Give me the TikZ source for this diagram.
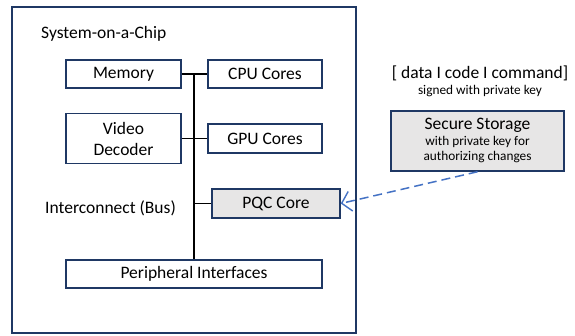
\documentclass[tikz,border=0pt]{standalone}
\usepackage{fontspec}
\setmainfont{Carlito}
\usetikzlibrary{arrows.meta}
\definecolor{boxline}{HTML}{1F3864}
\definecolor{boxfill}{HTML}{E7E6E6}
\definecolor{arrowblue}{HTML}{4472C4}
\begin{document}
\begin{tikzpicture}[x=1pt,y=-1pt,
  blk/.style={draw=boxline,line width=1.5pt,fill=white,inner sep=0pt,align=center,font=\fontsize{17.5}{20}\selectfont},
  grayblk/.style={blk,fill=boxfill},
  lbl/.style={inner sep=0pt,font=\fontsize{17.5}{20}\selectfont},
  small/.style={inner sep=0pt,font=\fontsize{13.3}{15}\selectfont},
  bus/.style={line width=1.5pt,black},
  link/.style={arrowblue,line width=1.5pt,dash pattern=on 9pt off 5pt,-{Straight Barb[length=9pt,width=20pt,line width=1.4pt]}}]
\useasboundingbox (0,0) rectangle (575,336);
\draw[boxline,line width=1.5pt] (12,7) rectangle (356,333);
\node[lbl,anchor=west] (soc) at (41,34) {System-on-a-Chip};
\node[blk,minimum width=115pt,minimum height=28pt] (mem) at (123.5,74) {Memory};
\node[blk,minimum width=114pt,minimum height=28pt] (cpu) at (265,74) {CPU Cores};
\node[blk,minimum width=115pt,minimum height=50pt] (vid) at (123.5,138.5) {Video\\[1pt]Decoder};
\node[blk,minimum width=114pt,minimum height=29pt] (gpu) at (265,138.5) {GPU Cores};
\node[grayblk,minimum width=128pt,minimum height=29pt] (pqc) at (276,203.5) {PQC Core};
\node[blk,minimum width=256pt,minimum height=28pt] (per) at (194,274) {Peripheral Interfaces};
\node[lbl,anchor=west] (icb) at (45,208) {Interconnect (Bus)};
\coordinate (bustop) at (194,74);
\draw[bus] (mem.east) -- (cpu.west);
\draw[bus] (vid.east) -- (gpu.west);
\draw[bus] (bustop) -- (bustop |- per.north);
\draw[bus] (bustop |- pqc.west) -- (pqc.west);
\node[lbl,font=\fontsize{17.5}{20}\selectfont] (dcc) at (480,73) {[ data I code I command]};
\node[small] (sig) at (480,91) {signed with private key};
\node[grayblk,minimum width=173pt,minimum height=60pt] (sec) at (477.5,141) {};
\node[lbl] (sect) at (477.5,125) {Secure Storage};
\node[small] (sec1) at (477.5,142) {with private key for};
\node[small] (sec2) at (477.5,157.5) {authorizing changes};
\draw[link] (sec.south) -- (pqc.east);
\end{tikzpicture}
\end{document}
